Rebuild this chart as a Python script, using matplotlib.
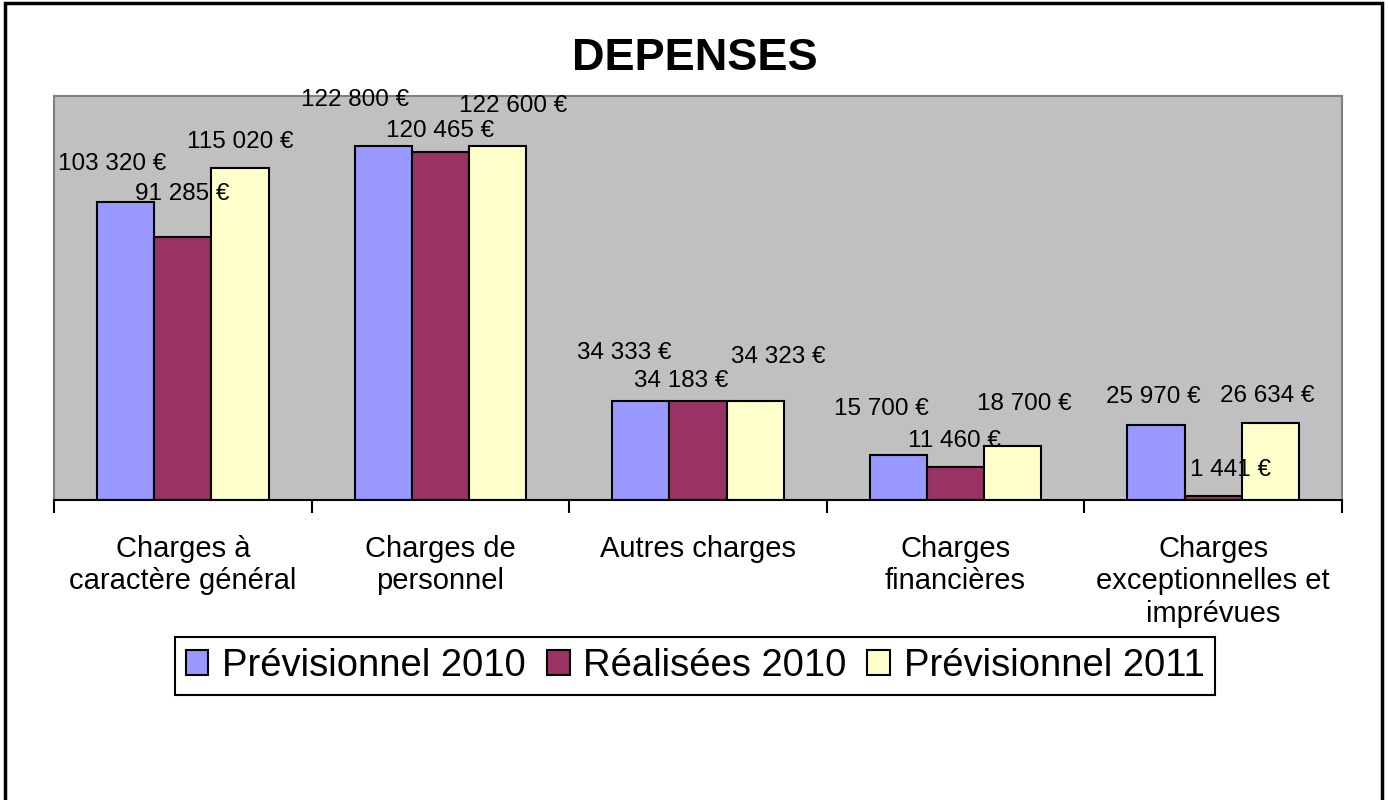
import numpy as np
import matplotlib
matplotlib.use("Agg")
import matplotlib.pyplot as plt
from matplotlib.patches import Rectangle

plt.rcParams['font.family'] = ['Liberation Sans', 'DejaVu Sans']

categories = ["Charges à\ncaractère général", "Charges de\npersonnel", "Autres charges",
              "Charges\nfinancières", "Charges\nexceptionnelles et\nimprévues"]
series_names = ["Prévisionnel 2010", "Réalisées 2010", "Prévisionnel 2011"]
prev_2010 = [103320, 122800, 34333, 15700, 25970]
real_2010 = [91285, 120465, 34183, 11460, 1441]
prev_2011 = [115020, 122600, 34323, 18700, 26634]
colors = ["#9999FF", "#993366", "#FFFFCC"]

# label offsets (pixels) relative to bar top centre, like Excel placed them
label_dx = [[-13, -28, -17, -17, -3],
            [-1, 0, -17, -1, 17],
            [0, 15, 23, 11, -3]]
label_dy = [[38, 46, 48, 46, 28],
            [43, 21, 20, 26, 26],
            [26, 40, 44, 42, 27]]

W, H = 1388, 800
fig = plt.figure(figsize=(W / 100, H / 100), dpi=100)
ax = fig.add_axes([54 / W, 1 - 500 / H, 1288 / W, 404 / H])
ax.set_facecolor("#C0C0C0")

x = np.arange(len(categories))
bw = 1 / 4.5
for i, vals in enumerate([prev_2010, real_2010, prev_2011]):
    pos = x + (i - 1) * bw
    ax.bar(pos, vals, width=bw, color=colors[i], edgecolor="black", linewidth=1.5,
           label=series_names[i], zorder=2)
    for j, v in enumerate(vals):
        ax.annotate(f"{v:,}".replace(",", " ") + " €", (pos[j], v),
                    xytext=(label_dx[i][j] * 0.72, label_dy[i][j] * 0.72),
                    textcoords="offset points", ha="center", va="center",
                    fontsize=17.5, zorder=3)

ax.set_xlim(-0.5, len(categories) - 0.5)
ax.set_ylim(0, 140000)
ax.set_yticks([])
ax.set_xticks(x)
ax.set_xticklabels(categories, fontsize=21, linespacing=1.2)
ax.tick_params(axis="x", which="major", length=0, pad=25)
ax.set_xticks(np.arange(len(categories) + 1) - 0.5, minor=True)
ax.tick_params(axis="x", which="minor", length=9, width=1.5, direction="out")
for s in ["top", "left", "right"]:
    ax.spines[s].set_color("#808080")
    ax.spines[s].set_linewidth(1.5)
ax.spines["bottom"].set_linewidth(1.5)

fig.text(695 / W, 1 - 58 / H, "DEPENSES", ha="center", va="center",
         fontsize=32.5, fontweight="bold")

leg = fig.legend(loc="center", bbox_to_anchor=(695 / W, 1 - 666 / H), ncol=3,
                 fontsize=27.5, fancybox=False, edgecolor="black", framealpha=1,
                 handlelength=0.6, handleheight=0.6, handletextpad=0.35,
                 columnspacing=0.55, borderpad=0.28, borderaxespad=0)
leg.get_frame().set_linewidth(1.5)

fig.patches.append(Rectangle((5 / W, -0.01), 1377 / W, 1 - 3 / H + 0.01,
                             transform=fig.transFigure, fill=False,
                             edgecolor="black", linewidth=2.5))

fig.savefig("out.png", dpi=100)
